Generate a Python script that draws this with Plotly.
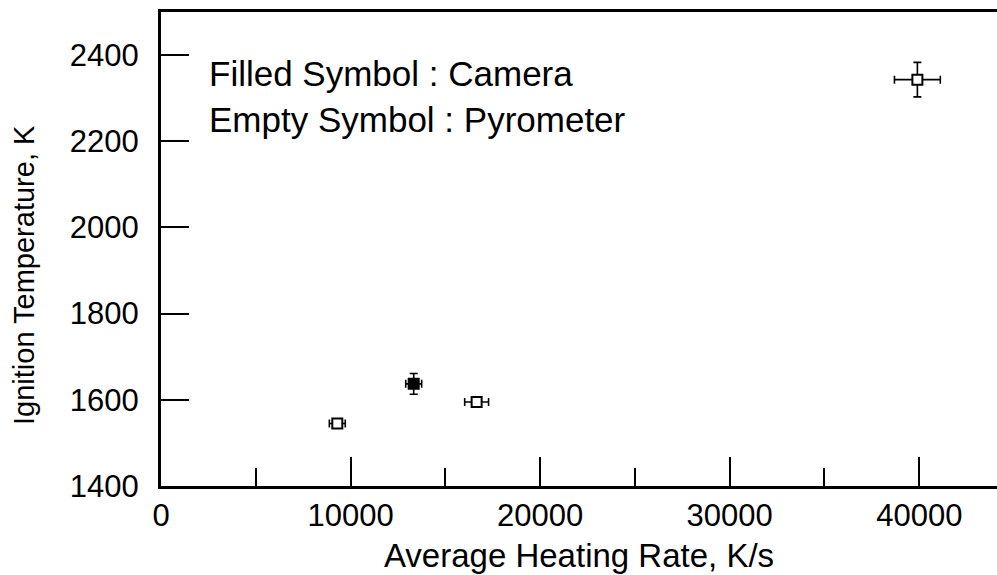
import plotly.graph_objects as go

# Pyrometer measurements (open squares)
pyro_rate = [9300, 16650, 39900]
pyro_temp = [1545, 1595, 2343]
pyro_rate_err = [420, 630, 1210]
pyro_temp_err = [8, 8, 40]

# Camera measurement (filled square)
cam_rate = [13330]
cam_temp = [1637]
cam_rate_err = [420]
cam_temp_err = [24]

x_ticks = [0, 10000, 20000, 30000, 40000]
y_ticks = [1400, 1600, 1800, 2000, 2200, 2400]

FONT = "Liberation Sans, Arial, sans-serif"

fig = go.Figure()

err_style = dict(type="data", color="black", thickness=1.6, width=4)

fig.add_trace(go.Scatter(
    x=pyro_rate, y=pyro_temp, mode="markers",
    marker=dict(symbol="square", size=10, color="white",
                line=dict(color="black", width=2)),
    error_x=dict(array=pyro_rate_err, **err_style),
    error_y=dict(array=pyro_temp_err, **err_style),
    showlegend=False,
))

fig.add_trace(go.Scatter(
    x=cam_rate, y=cam_temp, mode="markers",
    marker=dict(symbol="square", size=10, color="black",
                line=dict(color="black", width=2)),
    error_x=dict(array=cam_rate_err, **err_style),
    error_y=dict(array=cam_temp_err, **err_style),
    showlegend=False,
))

fig.add_annotation(text="Filled Symbol : Camera", xref="paper", yref="paper",
                   x=0.055, y=0.87, xanchor="left", yanchor="middle",
                   showarrow=False, font=dict(family=FONT, size=35, color="black"))
fig.add_annotation(text="Empty Symbol : Pyrometer", xref="paper", yref="paper",
                   x=0.055, y=0.773, xanchor="left", yanchor="middle",
                   showarrow=False, font=dict(family=FONT, size=35, color="black"))

# y-axis label, placed as rotated text
fig.add_annotation(text="Ignition Temperature, K", xref="paper", yref="paper",
                   x=-0.164, y=0.445, xanchor="center", yanchor="middle",
                   textangle=-90, showarrow=False,
                   font=dict(family=FONT, size=29, color="black"))

fig.update_xaxes(
    range=[0, 44100], tickvals=x_ticks, ticktext=[str(v) for v in x_ticks],
    showgrid=False, zeroline=False,
    showline=True, linecolor="black", linewidth=3, mirror=True,
    ticks="inside", ticklen=29, tickwidth=2, tickcolor="black",
    minor=dict(dtick=5000, tick0=0, ticks="inside", ticklen=18,
               tickwidth=2, tickcolor="black", showgrid=False),
    tickfont=dict(family=FONT, size=31, color="black"),
    title=dict(text="Average Heating Rate, K/s", standoff=12,
               font=dict(family=FONT, size=33, color="black")),
)

fig.update_yaxes(
    range=[1400, 2500], tickvals=y_ticks, ticktext=[str(v) for v in y_ticks],
    showgrid=False, zeroline=False,
    showline=True, linecolor="black", linewidth=3,
    ticks="inside", ticklen=28, tickwidth=2, tickcolor="black",
    ticklabelstandoff=13,
    tickfont=dict(family=FONT, size=31, color="black"),
)

fig.update_layout(
    width=997, height=575,
    margin=dict(l=161, r=0, t=12, b=89),
    paper_bgcolor="white", plot_bgcolor="white",
)

fig.write_html("out.html")
